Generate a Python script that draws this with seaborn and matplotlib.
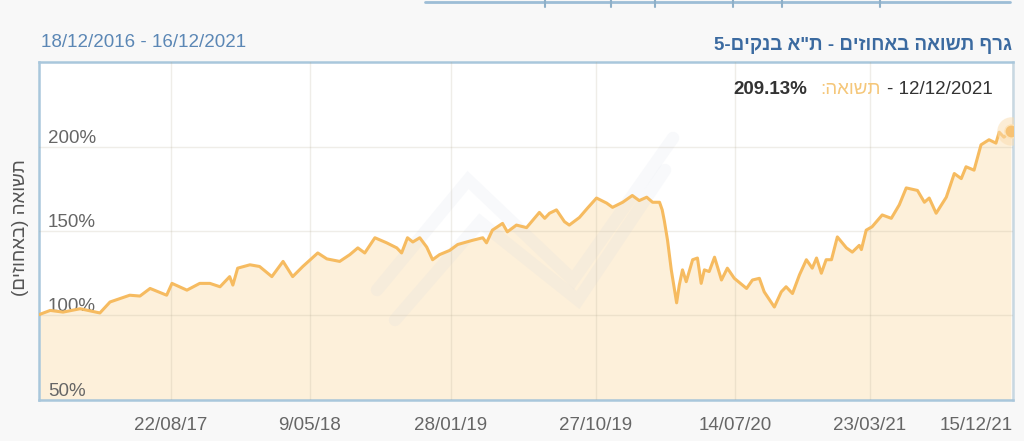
import pandas as pd
import matplotlib.pyplot as plt
import seaborn as sns
from matplotlib.lines import Line2D

start = pd.Timestamp("2016-12-18")
end = pd.Timestamp("2021-12-16")

# days since 18/12/2016 and return (%)
days = [0, 21, 45, 77, 114, 133, 170, 189, 208, 239, 249, 277, 301, 320, 339, 357, 363, 372,
        395, 413, 436, 457, 475, 494, 522, 539, 563, 582, 597, 610, 629, 651, 670, 679, 690,
        700, 713, 726, 737, 750, 769, 784, 812, 831, 838, 849, 868, 877, 894, 913, 937, 947,
        956, 969, 984, 993, 1012, 1027, 1044, 1063, 1074, 1093, 1111, 1124, 1138, 1149, 1162,
        1167, 1171, 1177, 1184, 1194, 1199, 1205, 1212, 1224, 1233, 1240, 1246, 1255, 1265,
        1278, 1289, 1302, 1325, 1336, 1349, 1358, 1377, 1390, 1399, 1411, 1424, 1437, 1448,
        1456, 1465, 1474, 1484, 1495, 1512, 1523, 1536, 1540, 1549, 1560, 1579, 1596, 1611,
        1624, 1645, 1658, 1667, 1680, 1699, 1714, 1727, 1736, 1751, 1764, 1779, 1792, 1798,
        1807, 1820]
returns = [100.5, 103, 102, 104, 101.5, 108, 112, 111.5, 116, 112, 119, 115, 119, 119, 117, 123,
           118, 128, 130, 129, 123, 132, 123, 129, 137, 133.5, 132, 136, 140, 137, 146, 143, 140,
           137, 146, 143.5, 146, 140.5, 133, 136, 138.5, 142, 144.5, 146, 143, 150.5, 154.5,
           149.5, 153.5, 152, 161, 157.5, 160.5, 162.5, 155.5, 153.5, 158, 163.5, 169.5, 166.5,
           164, 167, 171, 168, 170, 167, 167, 162.5, 156, 144.5, 127, 107.5, 118, 127, 120, 133,
           134, 119, 127, 126, 134.5, 121, 128, 122, 116, 121, 122, 114, 105, 114, 117, 113,
           124, 133, 128, 134, 125, 133, 133, 146.5, 140, 137.5, 141.5, 139, 150.5, 152.5,
           159.5, 157.5, 165.5, 175.5, 174, 167, 169.5, 160.5, 170, 184, 181, 188, 186, 201,
           204, 202, 208.5, 205.5, 209.13]

tick_dates = ["2017-08-22", "2018-05-09", "2019-01-28", "2019-10-27", "2020-07-14",
              "2021-03-23", "2021-12-15"]
tick_labels = ["22/08/17", "9/05/18", "28/01/19", "27/10/19", "14/07/20", "23/03/21", "15/12/21"]
y_ticks = [50, 100, 150, 200]
y_labels = ["50%", "100%", "150%", "200%"]

title = 'גרף תשואה באחוזים - ת"א בנקים-5'
y_title = "תשואה (באחוזים)"
range_text = "18/12/2016 - 16/12/2021"
tip_word = "תשואה:"
tip_value = "209.13%"
tip_date = "- 12/12/2021"


def rtl(s):
    # matplotlib has no bidi, so flip hebrew to visual order
    return s[::-1].translate(str.maketrans("()", ")("))


df = pd.DataFrame({"date": start + pd.to_timedelta(days, unit="D"), "ret": returns})

sns.set_theme(style="white")
plt.rcParams["font.family"] = ["Liberation Sans", "DejaVu Sans"]

line_c = "#f6bb60"
fill_c = "#fdf0da"

fig = plt.figure(figsize=(10.24, 4.41), dpi=100, facecolor="#f8f8f8")
ax = fig.add_axes([0.0381, 0.0930, 0.9512, 0.7664])
ax.set_facecolor("white")

ax.fill_between(df["date"], df["ret"], 50, color=fill_c, zorder=1, linewidth=0)
sns.lineplot(data=df, x="date", y="ret", color=line_c, linewidth=2.2, ax=ax, zorder=4)
last = df.iloc[-1]
ax.scatter([last["date"]], [last["ret"]], s=420, color="#fbdcae", alpha=0.5, zorder=5, linewidths=0)
ax.scatter([last["date"]], [last["ret"]], s=90, color="#f7c274", zorder=6, edgecolors="#fde3b8",
           linewidths=1)

# faint watermark logo
def px(x, y):
    return (x - 39) / 974, (400 - y) / 338

for pts in [[(377, 290), (468, 180), (573, 280), (673, 138)],
            [(395, 320), (480, 222), (578, 300), (665, 170)]]:
    xs, ys = zip(*[px(*p) for p in pts])
    ax.plot(xs, ys, transform=ax.transAxes, color="#c9d3e3", alpha=0.12, linewidth=9,
            solid_joinstyle="miter", zorder=2)

ax.set_xlim(start, end)
ax.set_ylim(50, 250)
ax.set_xticks(pd.to_datetime(tick_dates))
ax.set_xticklabels(tick_labels)
ax.set_yticks(y_ticks)
ax.set_yticklabels(y_labels)
ax.set_xlabel("")
ax.set_ylabel("")
ax.tick_params(axis="x", length=0, pad=12, labelsize=13.5, labelcolor="#666666")
ax.tick_params(axis="y", length=0, pad=-6.5, labelsize=13.5, labelcolor="#666666")
for t in ax.get_yticklabels():
    t.set_ha("left")
    t.set_va("bottom")
ax.get_xticklabels()[-1].set_ha("right")

ax.set_axisbelow(False)
ax.grid(True, color="#b0a890", alpha=0.2, linewidth=1)
for s in ax.spines.values():
    s.set_color("#a9c7dc")
    s.set_linewidth(1.8)
ax.spines["right"].set_color("#c8d8e2")

fig.text(0.040, 0.9025, range_text, color="#5b87b5", fontsize=13.5, va="center", ha="left")
fig.text(0.9885, 0.896, rtl(title), color="#3b6aa0", fontsize=13.5, fontweight="bold",
         va="center", ha="right")
fig.text(0.0205, 0.483, rtl(y_title), color="#555555", fontsize=13.5, rotation=90,
         va="center", ha="center")

fig.text(0.9697, 0.798, tip_date, color="#333333", fontsize=13.5, va="center", ha="right")
fig.text(0.831, 0.798, rtl(tip_word), color="#f5c77a", fontsize=13.5, va="center", ha="center")
fig.text(0.788, 0.798, tip_value, color="#333333", fontsize=13.5, fontweight="bold",
         va="center", ha="right")

# bottom edge of the panel above
def fp(x, y):
    return x / 1024, (441 - y) / 441

x0, y0 = fp(425, 2)
x1, _ = fp(1010, 2)
fig.add_artist(Line2D([x0, x1], [y0, y0], color="#9dbdd6", linewidth=2))
for tx in [545, 611, 655, 733, 782, 880]:
    a, b = fp(tx, 0)
    _, c = fp(tx, 7)
    fig.add_artist(Line2D([a, a], [b, c], color="#8fb0c8", linewidth=1.5))

fig.savefig("out.png", dpi=100, facecolor=fig.get_facecolor())
